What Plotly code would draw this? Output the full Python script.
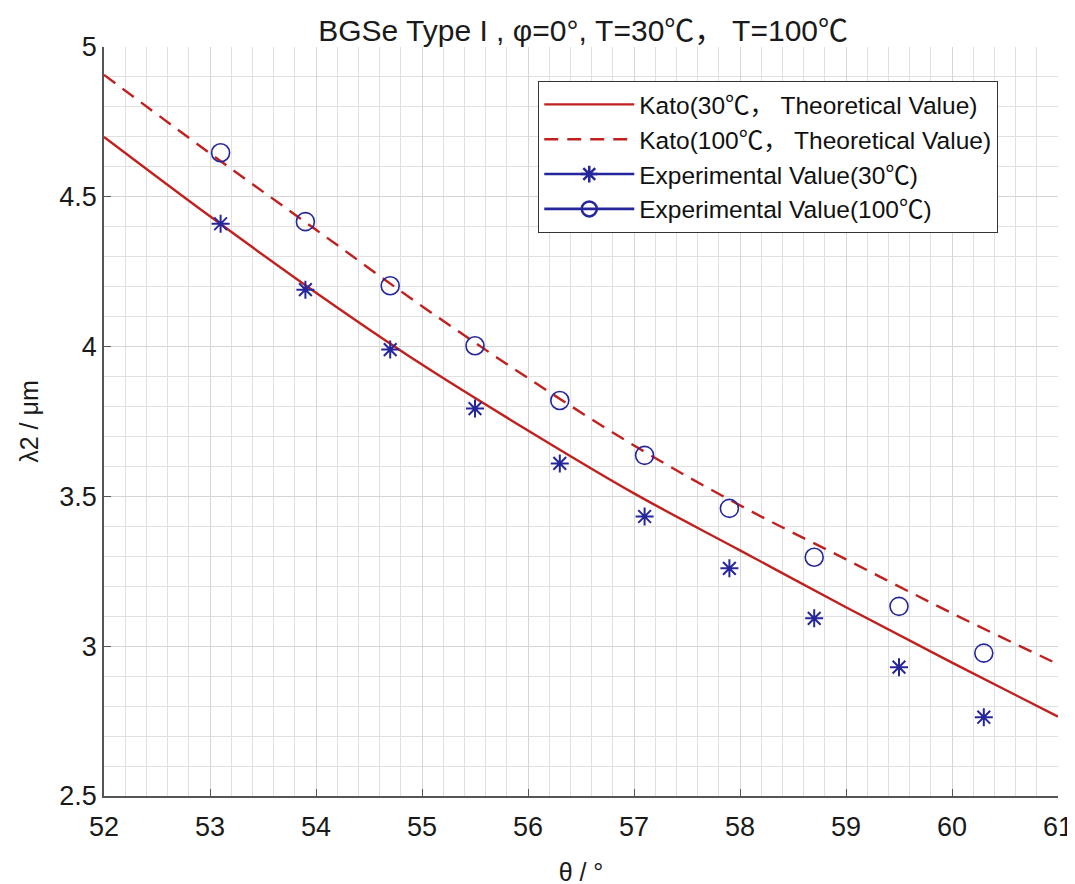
#!/usr/bin/env python

"""BGSe Type I phase matching: Kato curves vs experimental points."""

import plotly.graph_objects as go

# theory curves (sampled along theta)
theta_curve = [52, 53, 54, 55, 56, 57, 58, 59, 60, 61]
kato_30 = [4.70, 4.435, 4.18, 3.94, 3.72, 3.51, 3.32, 3.13, 2.945, 2.765]
kato_100 = [4.907, 4.645, 4.39, 4.135, 3.895, 3.67, 3.47, 3.29, 3.11, 2.94]

# measured points
theta_exp = [53.1, 53.9, 54.7, 55.5, 56.3, 57.1, 57.9, 58.7, 59.5, 60.3]
exp_30 = [4.41, 4.19, 3.99, 3.793, 3.61, 3.433, 3.26, 3.093, 2.93, 2.763]
exp_100 = [4.647, 4.417, 4.203, 4.003, 3.82, 3.637, 3.46, 3.297, 3.133, 2.977]

# tick labels
x_ticks = [52, 53, 54, 55, 56, 57, 58, 59, 60, 61]
y_ticks = [2.5, 3, 3.5, 4, 4.5, 5]
y_ticktext = ["2.5", "3", "3.5", "4", "4.5", "5"]

RED = "#c0201e"
BLUE = "#26269c"
FONT = "Liberation Sans, Arial, Noto Sans CJK SC, sans-serif"


def main():
    fig = go.Figure()

    fig.add_trace(go.Scatter(
        x=theta_curve, y=kato_30, mode="lines", line_shape="spline",
        line=dict(color=RED, width=2.4),
        name="Kato(30℃， Theoretical Value)",
    ))
    fig.add_trace(go.Scatter(
        x=theta_curve, y=kato_100, mode="lines", line_shape="spline",
        line=dict(color=RED, width=2.4, dash="14px,9px"),
        name="Kato(100℃， Theoretical Value)",
    ))
    fig.add_trace(go.Scatter(
        x=theta_exp, y=exp_30, mode="markers",
        marker=dict(symbol="asterisk-open", size=15, color=BLUE,
                    line=dict(color=BLUE, width=2)),
        showlegend=False,
    ))
    fig.add_trace(go.Scatter(
        x=theta_exp, y=exp_100, mode="markers",
        marker=dict(symbol="circle-open", size=18, color=BLUE,
                    line=dict(color=BLUE, width=1.6)),
        showlegend=False,
    ))
    # legend entries drawn as line + marker like the original
    fig.add_trace(go.Scatter(
        x=[None], y=[None], mode="lines+markers",
        line=dict(color=BLUE, width=2.6),
        marker=dict(symbol="asterisk-open", size=14, color=BLUE,
                    line=dict(color=BLUE, width=2.5)),
        name="Experimental Value(30℃)",
    ))
    fig.add_trace(go.Scatter(
        x=[None], y=[None], mode="lines+markers",
        line=dict(color=BLUE, width=2.6),
        marker=dict(symbol="circle-open", size=15, color=BLUE,
                    line=dict(color=BLUE, width=2.5)),
        name="Experimental Value(100℃)",
    ))

    axis_common = dict(
        showgrid=True, gridcolor="#d6d6d6", gridwidth=1,
        showline=True, linecolor="#555555", linewidth=1.5,
        ticks="inside", ticklen=7, tickcolor="#555555",
        tickfont=dict(size=27, color="#1a1a1a", family=FONT),
        zeroline=False, automargin=False,
    )

    fig.update_layout(
        width=1075, height=884,
        margin=dict(l=96, r=25, t=39, b=96),
        paper_bgcolor="white", plot_bgcolor="white",
        font=dict(family=FONT, color="#1a1a1a"),
        title=dict(
            text="BGSe Type I , φ=0°, T=30℃， T=100℃",
            x=0.535, xanchor="center", y=0.975, yanchor="middle",
            font=dict(size=30, family=FONT, color="#1a1a1a"),
        ),
        xaxis=dict(
            range=[52, 61], tickvals=x_ticks, ticklabelstandoff=6,
            minor=dict(dtick=0.2, showgrid=True, gridcolor="#e0e0e0", ticks=""),
            title=dict(text="θ / °", font=dict(size=25, family=FONT), standoff=22),
            **axis_common,
        ),
        yaxis=dict(
            range=[2.5, 5], tickvals=y_ticks, ticktext=y_ticktext,
            minor=dict(dtick=0.1, showgrid=True, gridcolor="#e0e0e0", ticks=""),
            title=dict(text="λ2 / μm", font=dict(size=25, family=FONT), standoff=14),
            **axis_common,
        ),
        legend=dict(
            x=0.455, y=0.955, xanchor="left", yanchor="top",
            bgcolor="white", bordercolor="#333333", borderwidth=1.2,
            font=dict(size=24.5, family=FONT, color="#111111"),
            itemwidth=90, tracegroupgap=0,
        ),
        showlegend=True,
    )

    fig.write_html("out.html")


if __name__ == "__main__":
    main()
